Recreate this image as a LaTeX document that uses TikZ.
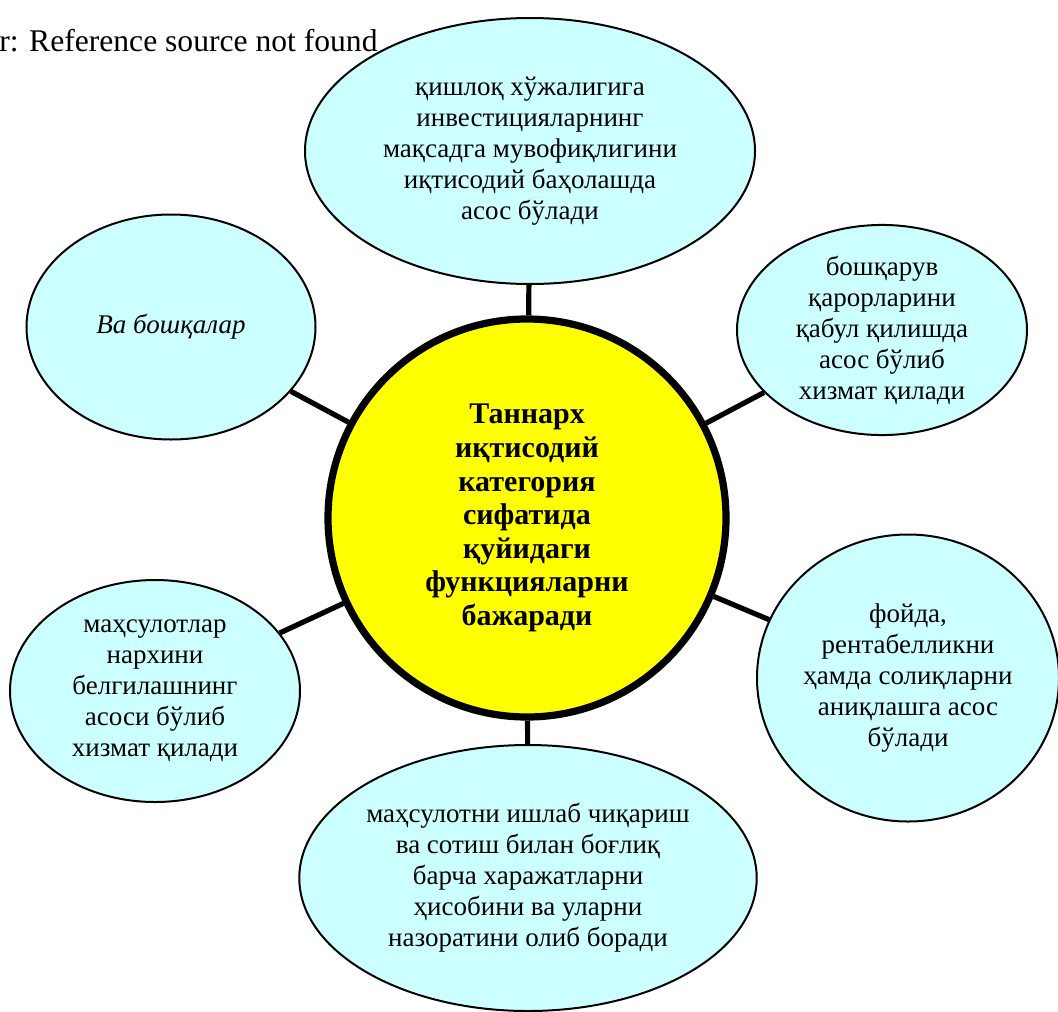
\documentclass[tikz,border=0pt]{standalone}
\usepackage{fontspec}
\setmainfont{Liberation Serif}
\usepackage{tikz}
\usetikzlibrary{shapes.geometric}
\definecolor{funccyan}{HTML}{CCFFFF}
\definecolor{funcyellow}{HTML}{FFFF00}

\begin{document}
\begin{tikzpicture}[x=0.5pt,y=-0.5pt,
  func/.style={ellipse,draw,line width=1pt,fill=funccyan,inner sep=0pt,
               align=center,font=\fontsize{13.5pt}{15.5pt}\selectfont},
  hub/.style={circle,draw,line width=3.6pt,fill=funcyellow,inner sep=0pt,
              minimum size=199pt,align=center,
              font=\fontsize{15pt}{16.8pt}\selectfont\bfseries},
  link/.style={line width=2.6pt}]
  \useasboundingbox (0,0) rectangle (1058,1011);
  \clip (0,0) rectangle (1058,1011);
  \node[anchor=base west,inner sep=0pt,font=\fontsize{15.8pt}{17pt}\selectfont]
    (err) at (-1,52) {r: Reference source not found};
  \node[hub] (c) at (527,518)
    {Таннарх\\иқтисодий\\категория\\сифатида\\қуйидаги\\функцияларни\\бажаради};
  \node[func,minimum width=225pt,minimum height=133pt] (t) at (530,151)
    {қишлоқ хўжалигига\\инвестицияларнинг\\мақсадга мувофиқлигини\\иқтисодий баҳолашда\\асос бўлади};
  \node[func,minimum width=145pt,minimum height=105pt] (ur) at (882,330)
    {бошқарув\\қарорларини\\қабул қилишда\\асос бўлиб\\хизмат қилади};
  \node[func,minimum width=144.5pt,minimum height=112.5pt] (ul) at (171,327)
    {\itshape Ва бошқалар};
  \node[func,minimum width=151pt,minimum height=143.5pt] (lr) at (908,678)
    {фойда,\\рентабелликни\\ҳамда солиқларни\\аниқлашга асос\\бўлади};
  \node[func,minimum width=145pt,minimum height=111pt] (ll) at (155,691)
    {маҳсулотлар\\нархини\\белгилашнинг\\асоси бўлиб\\хизмат қилади};
  \node[func,minimum width=228pt,minimum height=133pt] (b) at (528,878)
    {маҳсулотни ишлаб чиқариш\\ва сотиш билан боғлиқ\\барча харажатларни\\ҳисобини ва уларни\\назоратини олиб боради};
  \foreach \f in {t,ur,ul,lr,ll,b}
    \draw[link] (c) -- (\f);
\end{tikzpicture}
\end{document}
